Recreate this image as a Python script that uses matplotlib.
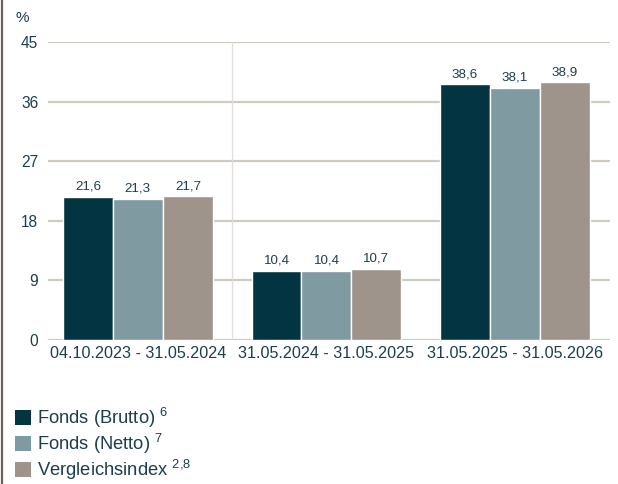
import matplotlib
matplotlib.use("Agg")
import matplotlib.pyplot as plt
from matplotlib.patches import Patch
import numpy as np

categories = ["04.10.2023 - 31.05.2024", "31.05.2024 - 31.05.2025", "31.05.2025 - 31.05.2026"]
series_names = ["Fonds (Brutto) $^{6}$", "Fonds (Netto) $^{7}$", "Vergleichsindex $^{2{,}8}$"]
brutto = [21.6, 10.4, 38.6]
netto = [21.3, 10.4, 38.1]
vergleich = [21.7, 10.7, 38.9]
yticks = [0, 9, 18, 27, 36, 45]

colors = ["#033441", "#7f9aa1", "#9e948b"]
text_color = "#1d3e4c"
grid_color = "#cfcac4"

plt.rcParams['font.family'] = ['Liberation Sans', 'DejaVu Sans']
plt.rcParams['mathtext.fontset'] = 'custom'
plt.rcParams['mathtext.rm'] = 'Liberation Sans'
plt.rcParams['mathtext.it'] = 'Liberation Sans'
plt.rcParams['mathtext.bf'] = 'Liberation Sans:bold'

W, H = 618, 484
fig = plt.figure(figsize=(W / 100, H / 100), dpi=100)
ax = fig.add_axes([48 / W, (H - 340) / H, (610 - 48) / W, (340 - 42) / H])

x = np.arange(len(categories))
bw = 0.265
all_series = [brutto, netto, vergleich]
for i, (vals, c) in enumerate(zip(all_series, colors)):
    bars = ax.bar(x + (i - 1) * bw, vals, width=bw, color=c, edgecolor="white",
                  linewidth=1.0, zorder=3)
    for b, v in zip(bars, vals):
        ax.annotate(f"{v:.1f}".replace(".", ","), (b.get_x() + b.get_width() / 2, v),
                    xytext=(0, 3), textcoords="offset points", ha="center", va="bottom",
                    fontsize=9.6, color=text_color)

ax.set_xlim(-0.477, 2.504)
ax.set_ylim(0, 45)
ax.set_yticks(yticks)
ax.set_yticklabels([str(t) for t in yticks], fontsize=11.2, color=text_color)
ax.set_xticks(x)
ax.set_xticklabels(categories, fontsize=11.6, color=text_color)
ax.tick_params(axis="y", length=0, pad=7)
ax.tick_params(axis="x", length=0, pad=4)
for t in yticks:
    ax.axhline(t, color=grid_color, linewidth=1.6, zorder=1)
ax.axvline(0.5, color="#e2ded9", linewidth=0.9, zorder=1)
for s in ax.spines.values():
    s.set_visible(False)

fig.text(15 / W, (H - 18) / H, "%", fontsize=11, color=text_color, va="center", ha="left")
fig.text(202 / W, (H + 11) / H, "Wertentwicklung", fontsize=15, fontweight="bold",
         color="#033441", ha="right", va="baseline")

# left border
fig.add_artist(plt.Line2D([2 / W, 2 / W], [0, 1], color="#6d625d", linewidth=1.6))

handles = [Patch(facecolor=c, edgecolor="none") for c in colors]
fig.legend(handles, series_names, loc="upper left", bbox_to_anchor=(15 / W, (H - 406) / H),
           frameon=False, fontsize=13.2, labelcolor=text_color, handlelength=0.85,
           handleheight=0.85, handletextpad=0.35, labelspacing=0.1, borderaxespad=0,
           borderpad=0)

fig.savefig("out.png", dpi=100)
